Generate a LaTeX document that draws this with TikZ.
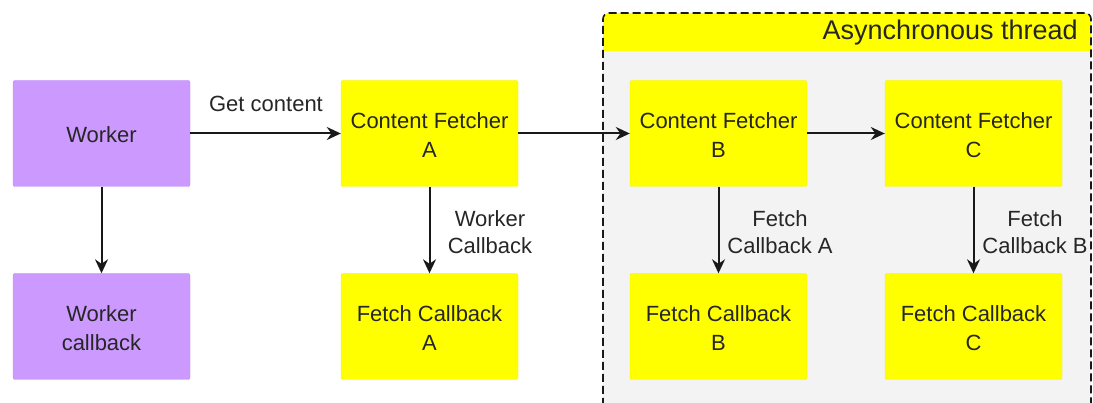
\documentclass[tikz,border=0pt]{standalone}
\usepackage{fontspec}
\setmainfont{Liberation Sans}
\usetikzlibrary{arrows.meta}
\definecolor{purp}{HTML}{CC99FF}
\definecolor{purpline}{HTML}{C08CF5}
\definecolor{yel}{HTML}{FFFF00}
\definecolor{yelline}{HTML}{F2F200}
\definecolor{bggray}{HTML}{F3F3F3}
\tikzset{
  box/.style={minimum width=177pt, minimum height=106pt, rounded corners=2pt, inner sep=0pt},
  purplebox/.style={box, fill=purp, draw=purpline},
  yellowbox/.style={box, fill=yel, draw=yelline},
  btxt/.style={font=\fontsize{22}{29}\selectfont, align=center, text=black!85, inner sep=0pt},
  arr/.style={-{Stealth[length=14pt,width=13pt]}, line width=2pt, black!90},
  lbl/.style={font=\fontsize{22}{27}\selectfont, align=center, text=black!85, inner sep=0pt},
}
\begin{document}
\begin{tikzpicture}[x=1pt,y=-1pt]
\useasboundingbox (0,0) rectangle (1093,403);
% async region
\begin{scope}
\clip (0,0) rectangle (1093,403);
\fill[bggray, rounded corners=6pt] (603,13) rectangle (1091,430);
\fill[yel, rounded corners=6pt] (603,13) rectangle (1091,40);
\fill[yel] (603,30) rectangle (1091,51);
\draw[line width=1.6pt, black!90, dash pattern=on 8pt off 4pt, rounded corners=6pt] (603,430) -- (603,13) -- (1091,13) -- (1091,430);
\end{scope}
\node[font=\fontsize{27}{32}\selectfont, anchor=east, text=black!85, inner sep=0pt] (title) at (1078,33) {Asynchronous thread};
% nodes
\node[purplebox] (worker) at (101.5,133.5) {};
\node[purplebox] (wcb) at (101.5,326.5) {};
\node[yellowbox] (cfa) at (429.5,133.5) {};
\node[yellowbox] (fca) at (429.5,326.5) {};
\node[yellowbox] (cfb) at (718.5,133.5) {};
\node[yellowbox] (fcb) at (718.5,326.5) {};
\node[yellowbox] (cfc) at (973.5,133.5) {};
\node[yellowbox] (fcc) at (973.5,326.5) {};
% box texts
\node[btxt] (t0) at ([yshift=-1pt]worker.center) {Worker};
\node[btxt] (t7) at ([yshift=-2pt]wcb.center) {Worker\\callback};
\node[btxt] (t1) at ([yshift=-2pt]cfa.center) {Content Fetcher\\A};
\node[btxt] (t2) at ([yshift=-2pt]fca.center) {Fetch Callback\\A};
\node[btxt] (t3) at ([yshift=-2pt]cfb.center) {Content Fetcher\\B};
\node[btxt] (t4) at ([yshift=-2pt]fcb.center) {Fetch Callback\\B};
\node[btxt] (t5) at ([yshift=-2pt]cfc.center) {Content Fetcher\\C};
\node[btxt] (t6) at ([yshift=-2pt]fcc.center) {Fetch Callback\\C};
% arrows
\draw[arr] (worker) -- (cfa);
\draw[arr] (cfa) -- (cfb);
\draw[arr] (cfb) -- (cfc);
\draw[arr] (worker) -- (wcb);
\draw[arr] (cfa) -- (fca);
\draw[arr] (cfb) -- (fcb);
\draw[arr] (cfc) -- (fcc);
% labels
\node[lbl] (l1) at (266,104) {Get content};
\node[lbl] (l2) at (490,232) {Worker\\Callback};
\node[lbl] (l3) at (780,232) {Fetch\\Callback A};
\node[lbl] (l4) at (1035,232) {Fetch\\Callback B};
\end{tikzpicture}
\end{document}
